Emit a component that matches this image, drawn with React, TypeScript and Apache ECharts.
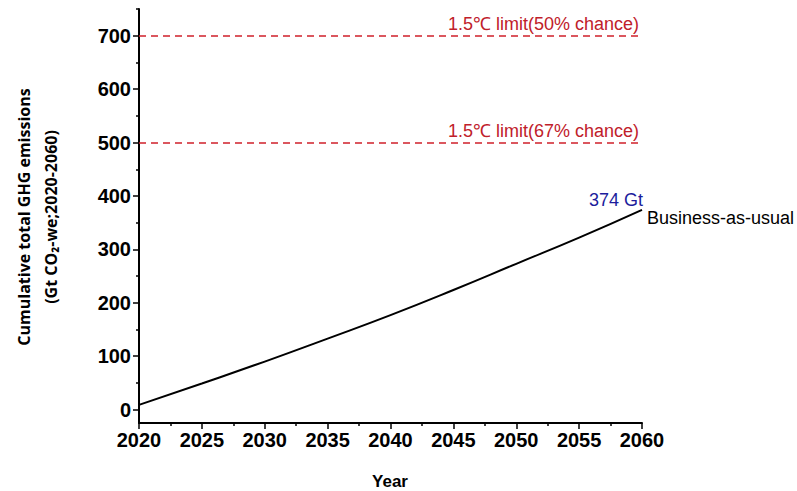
import React, { useEffect, useRef } from "react";
import * as echarts from "echarts";

const years = [2020, 2025, 2030, 2035, 2040, 2045, 2050, 2055, 2060];
const bauValues = [9, 49, 90, 133, 177, 224, 273, 322, 374];
const yTickValues = [0, 100, 200, 300, 400, 500, 600, 700];
const yMinorTickValues = [50, 150, 250, 350, 450, 550, 650, 750];
const limitValues = [700, 500];
const limitLabels = ["1.5℃ limit(50% chance)", "1.5℃ limit(67% chance)"];
const seriesName = "Business-as-usual";
const yTitleLines = ["Cumulative total GHG emissions", "(Gt CO₂-we;2020-2060)"];
const xTitle = "Year";

export default function App() {
  const ref = useRef<HTMLDivElement>(null);
  useEffect(() => {
    if (!ref.current) return;
    const chart = echarts.init(ref.current, null, { renderer: "svg" });
    const axisLabelStyle = {
      color: "#000",
      fontFamily: "Liberation Sans, Arial, sans-serif",
      fontWeight: "bold" as const,
      fontSize: 20,
    };
    chart.setOption({
      animation: false,
      backgroundColor: "#fff",
      grid: { left: 139, right: 155, top: 9, bottom: 68, outerBoundsMode: "none" },
      xAxis: {
        type: "value",
        min: 2020,
        max: 2060,
        interval: 5,
        axisLine: { onZero: false, lineStyle: { color: "#000", width: 2 } },
        axisTick: { length: 6, lineStyle: { color: "#000", width: 1.5 } },
        minorTick: { show: true, splitNumber: 2, length: 3, lineStyle: { color: "#000", width: 1.5 } },
        splitLine: { show: false },
        minorSplitLine: { show: false },
        axisLabel: { ...axisLabelStyle, margin: 7, formatter: (v: number) => String(v) },
      },
      yAxis: [
        {
          type: "value",
          min: -25,
          max: 750,
          axisLine: { show: true, onZero: false, lineStyle: { color: "#000", width: 2 } },
          axisTick: { show: true, length: 6, customValues: yTickValues, lineStyle: { color: "#000", width: 1.5 } },
          splitLine: { show: false },
          axisLabel: { ...axisLabelStyle, margin: 8, customValues: yTickValues },
        },
        {
          type: "value",
          min: -25,
          max: 750,
          position: "left",
          offset: 0,
          axisLine: { show: false },
          axisTick: { show: true, length: 3, customValues: yMinorTickValues, lineStyle: { color: "#000", width: 1.5 } },
          splitLine: { show: false },
          axisLabel: { show: false },
        },
      ],
      series: [
        {
          name: seriesName,
          type: "line",
          smooth: true,
          symbol: "none",
          data: years.map((y, i) => [y, bauValues[i]]),
          lineStyle: { color: "#000", width: 2 },
          endLabel: {
            show: true,
            formatter: seriesName,
            color: "#000",
            fontFamily: "Liberation Sans, Arial, sans-serif",
            fontSize: 18,
            distance: 5,
            offset: [0, 8],
          },
          markPoint: {
            symbol: "circle",
            symbolSize: 0,
            data: [
              {
                coord: [years[years.length - 1], bauValues[bauValues.length - 1]],
                value: bauValues[bauValues.length - 1],
              },
            ],
            label: {
              show: true,
              position: "left",
              distance: 0,
              offset: [1, -10],
              formatter: (p: any) => `${p.value} Gt`,
              color: "#1c1c9c",
              fontFamily: "Liberation Sans, Arial, sans-serif",
              fontSize: 18,
            },
          },
          markLine: {
            symbol: "none",
            silent: true,
            lineStyle: { color: "#d0202a", type: [7, 5], width: 1.5 },
            data: limitValues.map((v, i) => ({
              yAxis: v,
              label: {
                show: true,
                formatter: limitLabels[i],
                position: "insideEndTop",
                distance: [3, 3],
                color: "#c0202a",
                fontFamily: "Liberation Sans, Arial, sans-serif",
                fontSize: 18,
              },
            })),
          },
        },
      ],
      graphic: [
        {
          type: "text",
          x: 37,
          y: 217,
          rotation: Math.PI / 2,
          style: {
            text: yTitleLines.join("\n"),
            fill: "#000",
            font: "bold 16px 'Open Sans', sans-serif",
            lineHeight: 27,
            textAlign: "center",
            textVerticalAlign: "middle",
          },
        },
        {
          type: "text",
          x: 390,
          y: 481,
          style: {
            text: xTitle,
            fill: "#000",
            font: "bold 17px 'Liberation Sans', Arial, sans-serif",
            textAlign: "center",
            textVerticalAlign: "middle",
          },
        },
      ],
    });
    return () => chart.dispose();
  }, []);
  return (
    <div
      ref={ref}
      style={{ position: "fixed", left: 0, top: 0, width: 797, height: 491 }}
    />
  );
}
